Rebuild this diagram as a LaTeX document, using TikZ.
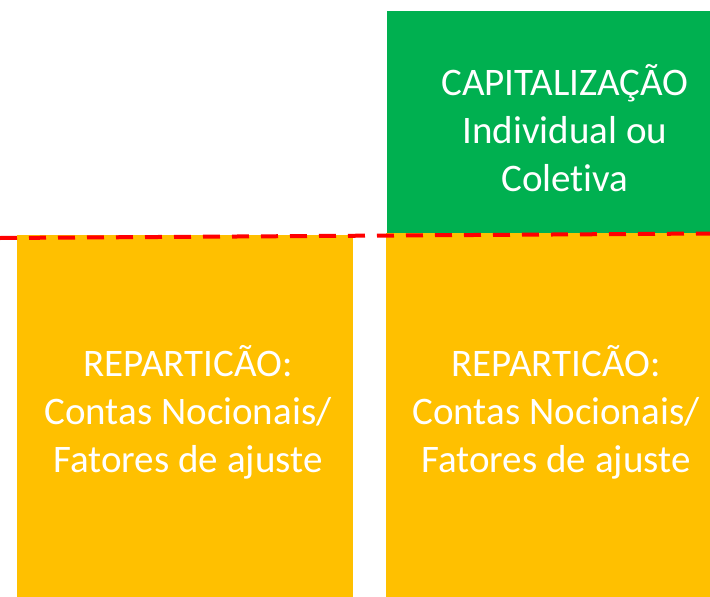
\documentclass[tikz,border=0pt]{standalone}
\usepackage{fontspec}
\setmainfont[RawFeature={-liga;-dlig}]{Carlito}
\definecolor{boxgreen}{HTML}{00B050}
\definecolor{boxorange}{HTML}{FFC000}
\definecolor{linered}{HTML}{FF0000}
\begin{document}
\begin{tikzpicture}[x=1pt,y=-1pt,
  lbl/.style={text=white,align=center,font=\fontsize{39}{48}\selectfont,inner sep=0pt}]
\useasboundingbox (0,0) rectangle (710,597);
\fill[boxgreen] (387,11) rectangle (710,233);
\fill[boxorange] (17,235) rectangle (353,597);
\fill[boxorange] (386,233) rectangle (710,597);
\coordinate (dl) at (0,238);
\coordinate (dr) at (710,233.5);
\draw[linered,line width=4pt,dash pattern=on 17pt off 12pt] (dl) -- (dr);
\node[lbl] (cap) at (565,128) {CAPITALIZAÇÃO\\Individual ou\\Coletiva};
\node[lbl] (repl) at (188,412) {REPARTICÃO:\\Contas Nocionais/\\Fatores de ajuste};
\node[lbl] (repr) at (556,412) {REPARTICÃO:\\Contas Nocionais/\\Fatores de ajuste};
\end{tikzpicture}
\end{document}
